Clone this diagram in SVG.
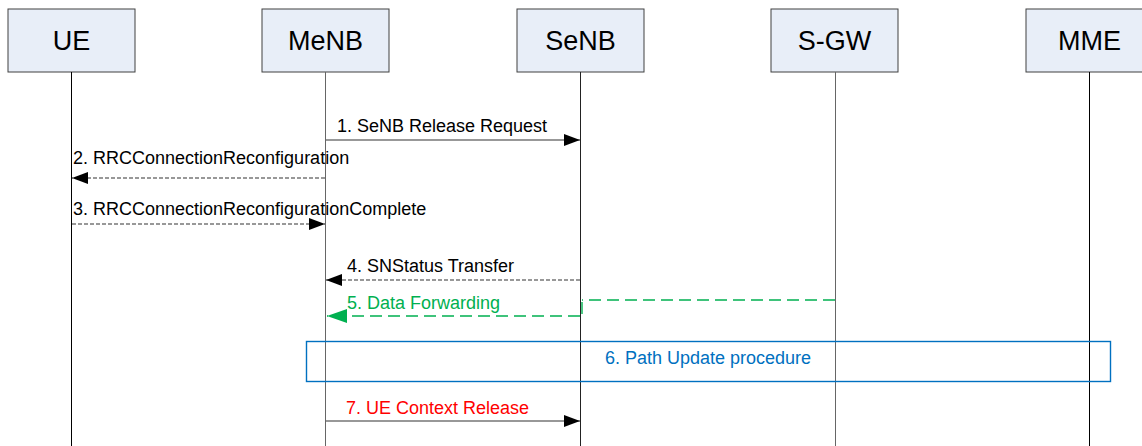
<svg xmlns="http://www.w3.org/2000/svg" width="1142" height="446" viewBox="0 0 1142 446">
<style>
.box{fill:#E8EEF8;stroke:#404040;stroke-width:1}
.hdr{font-family:"Liberation Sans",Arial,sans-serif;font-size:27px;fill:#000;text-anchor:middle}
.life{stroke:#333;stroke-width:1}
.lbl{font-family:"Liberation Sans",Arial,sans-serif;font-size:18px;fill:#000}
.solid{stroke:#333;stroke-width:1.2;fill:none}
.dash{stroke:#333;stroke-width:1.2;fill:none;stroke-dasharray:4 2}
.gdash{stroke:#00B050;stroke-width:1.6;fill:none;stroke-dasharray:12 6}
</style>
<defs>
<marker id="ah" markerWidth="16" markerHeight="12" refX="16" refY="6" orient="auto" markerUnits="userSpaceOnUse">
<path d="M0,0 L16,6 L0,12 z" fill="#000"/>
</marker>
<marker id="gah" markerWidth="20" markerHeight="14" refX="20" refY="7" orient="auto" markerUnits="userSpaceOnUse">
<path d="M0,0 L20,7 L0,14 z" fill="#00B050"/>
</marker>
</defs>
<rect width="1142" height="446" fill="#fff"/>
<g id="UE">
<rect class="box" x="8" y="9" width="127" height="63"/>
<text class="hdr" x="71.5" y="50">UE</text>
<line class="life" x1="71.5" y1="72" x2="71.5" y2="446" style="stroke:#000"/>
</g>
<g id="MeNB">
<rect class="box" x="262" y="9" width="127" height="63"/>
<text class="hdr" x="325.5" y="50">MeNB</text>
<line class="life" x1="325.5" y1="72" x2="325.5" y2="446" style="stroke:#666"/>
</g>
<g id="SeNB">
<rect class="box" x="517" y="9" width="127" height="63"/>
<text class="hdr" x="580.5" y="50">SeNB</text>
<line class="life" x1="580.5" y1="72" x2="580.5" y2="446" style="stroke:#222"/>
</g>
<g id="S-GW">
<rect class="box" x="771" y="9" width="127" height="63"/>
<text class="hdr" x="834.5" y="50">S-GW</text>
<line class="life" x1="835.5" y1="72" x2="835.5" y2="446" style="stroke:#666"/>
</g>
<g id="MME">
<rect class="box" x="1026" y="9" width="127" height="63"/>
<text class="hdr" x="1089.5" y="50">MME</text>
<line class="life" x1="1089.5" y1="72" x2="1089.5" y2="446" style="stroke:#000"/>
</g>
<g id="procedure6">
<rect x="306.5" y="341.5" width="804" height="40" fill="none" stroke="#0070C0" stroke-width="1.4"/>
<text class="lbl" x="708" y="364" text-anchor="middle" style="fill:#0070C0">6. Path Update procedure</text>
</g>
<g id="connectors">
<line class="solid" x1="326" y1="140" x2="580" y2="140" marker-end="url(#ah)"/>
<text class="lbl" x="337" y="132">1. SeNB Release Request</text>
<line class="dash" x1="325" y1="178" x2="72" y2="178" marker-end="url(#ah)"/>
<text class="lbl" x="73" y="164">2. RRCConnectionReconfiguration</text>
<line class="dash" x1="72" y1="224" x2="325" y2="224" marker-end="url(#ah)"/>
<text class="lbl" x="73" y="215">3. RRCConnectionReconfigurationComplete</text>
<line class="dash" x1="580" y1="280" x2="326" y2="280" marker-end="url(#ah)"/>
<text class="lbl" x="347" y="272">4. SNStatus Transfer</text>
<line class="gdash" x1="835" y1="300" x2="582" y2="300"/>
<line x1="582" y1="302" x2="582" y2="314" stroke="#00B050" stroke-width="1.4"/>
<line class="gdash" x1="580" y1="316" x2="327" y2="316" marker-end="url(#gah)"/>
<text class="lbl" x="347" y="309" style="fill:#00B050">5. Data Forwarding</text>
<line class="solid" x1="326" y1="421" x2="580" y2="421" marker-end="url(#ah)"/>
<text class="lbl" x="346" y="414" style="fill:#FF0000">7. UE Context Release</text>
</g>
</svg>
